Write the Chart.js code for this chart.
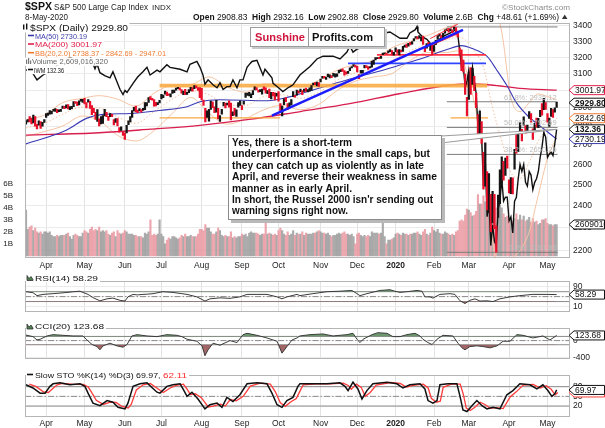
<!DOCTYPE html>
<html>
<head>
<meta charset="utf-8">
<title>$SPX S&amp;P 500 Large Cap Index</title>
<script src="https://cdn.jsdelivr.net/npm/chart.js@4.4.1/dist/chart.umd.min.js"></script>
<style>
  html, body { margin: 0; padding: 0; background: #fff; }
  #wrap { position: relative; width: 605px; height: 428px; overflow: hidden; background: #fff; }
  #wrap canvas { position: absolute; left: 0; }
</style>
</head>
<body>
<div id="wrap">
  <canvas id="main" width="605" height="275" style="top:0px"></canvas>
  <canvas id="rsi" width="605" height="47" style="top:273px"></canvas>
  <canvas id="cci" width="605" height="47" style="top:320px"></canvas>
  <canvas id="sto" width="605" height="61" style="top:367px"></canvas>
</div>
<script>
// trading-day index: 0 = 15-Mar-2019 ... 290 = 8-May-2020
const monthIdx = [11, 32, 54, 74, 96, 118, 138, 161, 181, 202, 223, 242, 264, 285];
const monthLbl = ['Apr', 'May', 'Jun', 'Jul', 'Aug', 'Sep', 'Oct', 'Nov', 'Dec', '2020', 'Feb', 'Mar', 'Apr', 'May'];
const priceTicks = [2200, 2300, 2400, 2500, 2600, 2700, 2800, 2900, 3000, 3100, 3200, 3300, 3400];
const volTicks = [1, 2, 3, 4, 5, 6];

const cl = [
  2822,2833,2832,2824,2854,2800,2798,2818,2805,2815,2834,
  2867,2867,2873,2879,2892,2895,2878,2888,2888,2907,2905,2907,2900,2905,2907,2933,2927,2926,2940,2943,2946,
  2924,2918,2946,2932,2884,2879,2870,2881,2812,2834,2851,2876,2860,2840,2864,2856,2822,2826,2802,2783,2789,2752,
  2744,2803,2826,2843,2873,2886,2885,2879,2891,2887,2889,2917,2926,2954,2950,2945,2917,2913,2924,2942,
  2964,2973,2996,2990,2976,2979,2993,3000,3014,3014,3004,2985,2995,2976,2986,3005,3019,3004,3026,3021,3013,2980,
  2954,2932,2845,2881,2884,2938,2918,2883,2926,2840,2848,2889,2924,2900,2925,2922,2847,2878,2869,2888,2924,2926,
  2906,2938,2976,2979,2979,2980,3000,3010,3007,2998,3006,3007,3006,2992,2992,2966,2984,2977,2962,2977,
  2941,2888,2910,2952,2938,2893,2919,2938,2970,2966,2996,2990,2998,2986,3007,2996,3004,3010,3023,3039,3036,3047,3038,
  3067,3078,3075,3077,3085,3093,3087,3092,3094,3097,3120,3122,3120,3108,3104,3110,3134,3141,3153,3141,
  3114,3093,3113,3117,3146,3136,3133,3142,3169,3169,3192,3192,3191,3206,3221,3224,3223,3240,3240,3222,3231,
  3258,3235,3246,3237,3253,3275,3265,3288,3283,3289,3317,3330,3321,3321,3326,3295,3244,3276,3273,3284,3226,
  3249,3298,3335,3345,3328,3352,3358,3379,3374,3380,3370,3386,3373,3338,3226,3128,3116,2979,2954,
  3090,3003,3130,3024,2972,2747,2882,2741,2481,2711,2386,2529,2398,2409,2305,2237,2447,2476,2630,2541,2627,2585,
  2470,2527,2489,2664,2659,2750,2790,2762,2846,2783,2800,2875,2823,2737,2799,2798,2837,2878,2863,2940,2912,
  2831,2843,2868,2849,2882,2929.8
];
const hi = [
  2830,2836,2852,2844,2860,2852,2809,2829,2825,2820,2836,
  2869,2872,2885,2881,2893,2896,2892,2889,2893,2910,2909,2917,2919,2908,2909,2936,2936,2933,2940,2949,2949,
  2955,2931,2947,2937,2913,2898,2875,2891,2840,2852,2858,2892,2875,2853,2868,2865,2836,2841,2841,2792,2796,2768,
  2763,2804,2828,2852,2885,2903,2911,2888,2896,2891,2898,2931,2930,2959,2965,2955,2947,2932,2930,2943,
  2977,2974,2996,2991,2981,2980,3002,3003,3014,3018,3016,3006,2996,3007,2990,3006,3019,3017,3028,3027,3017,3017,
  3013,2945,2898,2884,2892,2939,2935,2907,2943,2898,2857,2893,2932,2927,2928,2940,2928,2879,2898,2890,2930,2941,
  2914,2938,2985,2985,2989,2980,3000,3021,3017,3003,3006,3008,3022,3016,2999,3008,2989,2989,2987,2983,
  2993,2925,2911,2953,2959,2925,2929,2948,2993,2972,3003,2998,3008,3000,3008,3014,3005,3016,3028,3044,3047,3050,3047,
  3067,3084,3084,3078,3097,3093,3088,3102,3098,3098,3120,3124,3128,3118,3111,3113,3134,3142,3154,3150,
  3144,3094,3119,3120,3150,3148,3143,3143,3176,3182,3197,3198,3199,3206,3226,3227,3226,3240,3248,3241,3231,
  3258,3246,3247,3245,3268,3276,3283,3288,3294,3299,3317,3330,3330,3337,3327,3334,3258,3285,3293,3285,3282,
  3268,3306,3337,3348,3341,3352,3375,3381,3385,3381,3375,3393,3389,3360,3259,3246,3182,3097,2960,
  3091,3137,3131,3083,2985,2863,2883,2825,2661,2711,2563,2553,2453,2467,2453,2307,2449,2572,2638,2615,2631,2642,
  2523,2534,2533,2677,2756,2760,2819,2782,2851,2802,2806,2880,2868,2785,2815,2844,2842,2887,2925,2954,2930,
  2869,2844,2898,2891,2901,2932.2
];
const lo = [
  2810,2822,2823,2812,2817,2800,2785,2805,2787,2799,2820,
  2848,2859,2865,2867,2882,2880,2873,2879,2881,2898,2896,2900,2895,2891,2896,2908,2926,2913,2917,2939,2932,
  2923,2900,2933,2898,2862,2873,2836,2825,2801,2812,2815,2855,2852,2831,2851,2851,2806,2820,2801,2767,2776,2750,
  2728,2763,2808,2823,2848,2883,2878,2874,2884,2876,2886,2890,2911,2932,2947,2944,2910,2911,2919,2929,
  2952,2959,2978,2970,2971,2963,2983,2988,3002,3010,3003,2984,2976,2976,2977,2988,2998,2996,3011,3015,3000,2959,
  2946,2914,2823,2848,2826,2892,2901,2874,2877,2839,2825,2866,2912,2900,2917,2904,2834,2857,2860,2853,2905,2914,
  2891,2921,2960,2972,2969,2958,2976,3003,3003,2990,2993,2978,3004,2985,2982,2958,2952,2969,2946,2967,
  2938,2874,2856,2918,2935,2892,2907,2917,2964,2962,2973,2985,2991,2976,2995,2995,2991,2996,3001,3033,3034,3026,3024,
  3050,3073,3072,3065,3081,3074,3075,3085,3078,3083,3104,3111,3113,3091,3096,3101,3118,3134,3143,3139,
  3110,3070,3102,3103,3134,3135,3125,3134,3139,3156,3183,3191,3191,3192,3216,3222,3220,3227,3235,3215,3213,
  3235,3223,3215,3233,3236,3263,3262,3269,3277,3282,3302,3320,3316,3320,3302,3281,3234,3256,3271,3242,3215,
  3236,3281,3313,3334,3322,3317,3353,3369,3360,3367,3356,3378,3341,3328,3215,3118,3108,2977,2855,
  2948,2977,3035,2999,2901,2734,2734,2707,2478,2492,2380,2367,2281,2320,2295,2192,2345,2408,2505,2521,2545,2581,
  2460,2456,2455,2575,2657,2664,2762,2721,2805,2761,2764,2842,2821,2728,2775,2794,2791,2852,2860,2891,2892,
  2821,2798,2853,2847,2877,2902.9
];
// volume, billions
const vol = [
  3.8,2.2,2.4,2.5,2.1,2.3,2.0,1.9,2.0,1.8,2.0,
  2.0,1.9,2.0,1.7,1.6,1.6,1.7,1.6,1.7,1.7,1.7,1.8,1.9,1.6,1.4,1.7,1.8,1.7,1.6,1.6,1.9,
  2.1,2.0,1.9,2.2,2.4,2.1,2.2,2.1,2.4,2.0,2.1,2.0,2.1,1.8,1.7,1.9,2.0,1.6,2.1,1.9,1.8,1.9,
  2.1,2.0,1.8,1.8,1.8,1.7,1.7,1.6,1.6,1.6,1.5,1.9,1.8,2.0,3.0,1.7,1.8,1.7,1.8,3.0,
  1.8,1.6,1.0,1.3,1.5,1.4,1.6,1.6,1.5,1.4,1.5,1.7,1.6,1.8,1.6,1.6,1.7,1.6,1.6,1.6,1.8,2.2,
  2.2,2.1,2.6,2.3,2.3,2.0,1.8,1.8,2.0,2.3,2.1,1.7,1.6,1.7,1.6,1.6,2.0,1.5,1.6,1.5,1.6,1.6,
  1.8,1.7,1.8,1.6,1.9,2.0,1.9,1.9,1.9,1.8,1.7,1.8,1.8,3.2,1.8,1.9,1.8,1.7,1.8,1.7,
  2.1,2.3,2.1,1.8,1.7,2.0,1.7,1.8,2.1,1.7,1.9,1.8,1.8,2.0,1.7,1.9,1.8,1.8,1.8,1.9,1.9,2.0,2.1,
  2.0,1.9,1.9,1.8,1.9,1.7,1.6,1.7,1.7,1.8,1.9,1.8,1.9,2.0,1.8,1.8,1.7,1.8,1.6,1.0,
  1.8,1.9,1.7,1.6,1.7,1.6,1.7,1.6,2.0,1.9,1.9,1.9,1.8,1.9,3.1,1.6,1.0,1.3,1.3,1.4,1.5,
  1.8,1.9,1.8,1.7,1.9,1.8,1.8,1.7,1.8,1.8,1.9,1.9,2.0,1.8,1.7,2.0,2.2,1.8,1.7,1.9,2.4,
  2.1,2.0,2.2,1.9,1.8,1.8,2.0,1.9,1.8,1.7,1.8,1.7,2.0,2.1,2.9,3.0,2.9,3.4,3.9,
  3.8,3.6,3.3,3.4,3.7,5.1,4.3,4.3,5.0,4.5,4.6,4.6,4.4,4.5,5.0,4.0,4.0,4.2,4.0,3.5,3.2,3.3,
  3.0,3.0,2.9,3.1,3.5,3.0,3.4,3.0,3.3,2.9,3.0,3.2,2.8,3.1,2.8,2.9,2.6,2.7,3.0,3.0,3.1,
  2.7,2.6,2.6,2.5,2.6,2.609
];

// [day index, value]
const ma50 = [[0,2705],[22,2777],[33,2842],[42,2864],[57,2869],[73,2886],[88,2907],[95,2935],[106,2947],[132,2941],
  [144,2963],[155,2997],[168,3038],[181,3079],[193,3114],[204,3150],[215,3187],[230,3248],[238,3273],[244,3254],
  [252,3205],[257,3126],[263,3026],[268,2930],[274,2858],[282.5,2788],[290,2730.19]];
const ma200 = [[0,2751],[40,2764],[68,2783],[95,2804],[122,2836],[150,2880],[177,2924],[204,2981],[232,3032],
  [243,3038],[254,3032],[270,3012],[290,3001.97]];
const bbX = [0,10,20,31,40,50,60,70,80,90,100,110,120,130,140,150,160,170,180,190,200,210,220,230,
  236,240,245,250,255,260,265,270,275,280,285,290];
const bbUp = [2835,2860,2930,2955,2970,2950,2910,2985,3030,3035,3080,3020,2990,3040,3035,3020,3060,3120,3155,3180,3260,3300,3340,3390,
  3420,3480,3550,3640,3560,3360,2960,2880,2930,2980,2965,2947.01];
const bbMid = [2790,2815,2865,2905,2900,2850,2815,2880,2950,2998,2975,2915,2915,2965,2975,2955,2990,3060,3105,3130,3180,3240,3285,3310,
  3330,3310,3240,3140,2900,2720,2560,2530,2610,2720,2790,2842.69];
const bbLo = [2745,2770,2800,2855,2830,2750,2720,2775,2870,2960,2870,2810,2840,2890,2915,2890,2920,3000,3055,3080,3100,3180,3230,3230,
  3240,3140,2930,2640,2240,2080,2160,2200,2280,2450,2630,2738.37];
const iwm = [[0,152],[3.3,151.2],[6,148.5],[9.3,150.2],[12,151.2],[16,153],[21,155.5],[26,157],[31,158.5],[35,157],
  [37.7,152.4],[38.8,154.2],[40.4,151],[43,150],[45.9,149.2],[47.5,151.3],[51.4,145.2],[53,143.5],[54.1,144.9],[55.2,144.2],
  [58.5,147.3],[61,149.5],[63.9,151.3],[66.1,152.9],[67.8,150.2],[71.6,151.9],[73.2,151.3],[77,153.8],[78.7,152.9],[84.2,152.2],
  [88,151.3],[89.6,154],[93.4,155],[95.1,152.9],[96.7,150.2],[97.8,147],[99.5,148.5],[102.2,146.8],[104.4,145.8],[106,147.5],
  [107.7,145.2],[109.8,146.2],[111.5,146.2],[113.1,148.5],[115.3,145.8],[116.9,148.5],[118.6,148.5],[120.8,152.9],[122.4,154.2],
  [123.5,155],[126.2,155.4],[129.5,150.2],[130.6,152.2],[134.4,149.2],[135,147.3],[137.7,146],[140.4,144.5],[143.2,145.8],
  [144.3,146.2],[145.9,146.8],[149.7,150.2],[155.2,153.2],[159,155.9],[162.3,156.9],[167.8,156.9],[171.6,155.9],[175.4,158.4],
  [177,160.7],[178.7,158.4],[180.9,159.5],[184.2,160.3],[188,161.5],[192,163],[196.2,165.6],[198.9,166],[204.4,163.6],
  [208.2,163.6],[209.8,165.6],[212.6,166.8],[213.7,168.1],[214.2,166],[216.9,164],[219.1,163.2],[222.4,160.5],[224.6,162],
  [227,164],[230,165],[233,166],[235,167],[236,165],[237,159],[238,153],[239,153],[240,146],[241,148],[242,152],[243,148],
  [244,153],[245,148],[246,144],[247,133],[248,137],[249,130],[250,116],[251,123],[252,108],[253,112],[254,101],[255,106],
  [256,102],[257,101],[258,110],[259,112],[260,118],[261,112],[262,113],[263,113],[264,107],[265,108],[266,104],[267,112],
  [268,113],[269,118],[270,122],[271,120],[272,122],[273,117],[274,116],[275,120],[276,119],[277,115],[278,117],[279,118],
  [280,120],[281,124],[282,127],[283,131.5],[284,130],[285,124],[286,125],[287,125.5],[288,124.5],[289,128],[290,132.36]];

// analyst drawings: [fromDay, toDay, price]
const orangeThick = [[73, 252, 3028]];
const orangeThin = [[73, 138.8, 2845], [232, 252.5, 2845]];
const blueLevel = [[176, 251.4, 3162]];
const redLevel = [[191.8, 251.4, 3214]];
const blueTrend = [[134.4, 2857], [238.8, 3374]];
const redChannel = [[[221, 3318], [236, 3412]], [[223, 3282], [236.5, 3352]]];
const fibSpan = [230, 290.5];
const fibLevels = [3393.52, 2935.12, 2792.69, 2650.26, 2191.86];
const fibLbl = ['', '61.8%: 2935.12', '50.0%: 2792.69', '38.2%: 2650.26', '0.0%: 2191.86'];

const rsi = [[0,70],[3.8,66],[6,54],[9.3,59],[14.8,62],[18,64],[22.4,67],[26,70],[29.5,72],[31.1,67],[33.9,59],[36.6,46],
  [40.4,33],[44.3,41],[47.5,44],[51.4,35],[54.1,32],[55.7,49],[58.5,59],[60.9,57],[63.9,59],[66.5,60],[69.4,62],[74.9,70],
  [80.3,67],[85.2,62],[88,59],[93.4,49],[97.8,32],[100.5,41],[106,45],[111.5,43],[116.9,49],[120.8,59],[126.2,59],[131.7,59],
  [137.2,49],[139.9,41],[142.6,49],[148.1,59],[149.7,54],[156.8,62],[164.5,70],[171.6,72],[178.1,75],[180.9,62],[182.5,54],
  [186.3,62],[193.4,75],[198.9,78],[201.6,72],[204.4,67],[208.2,70],[213.7,75],[216.4,72],[218,49],[220.8,49],[222.4,44],
  [226.2,59],[231.7,62],[234.4,59],[237.2,33],[239.9,22],[242.6,35],[245.4,41],[248.1,32],[251.9,33],[255.2,30],[259,41],
  [264.5,49],[269.9,54],[277,59],[284.7,59],[290,58.29]];
const cci = [[0,132],[3.8,95],[6,16],[7.7,32],[11.5,111],[14.8,143],[20.2,127],[25.7,111],[31.1,111],[33.3,16],[36.1,-95],
  [38.8,-143],[40.4,-222],[42.1,-127],[45.9,-63],[49.7,-127],[53,-159],[55.2,-95],[57.9,111],[60.7,143],[66.1,111],[71.6,95],
  [77,143],[82.5,127],[85.2,95],[88,32],[93.4,-16],[96.2,-127],[97.8,-365],[99.5,-222],[102.2,-63],[106,-111],[111.5,0],
  [115.3,-48],[118.6,143],[120.8,175],[126.2,127],[131.7,63],[137.2,-16],[139.9,-302],[142.6,-143],[145.4,16],[148.1,63],
  [149.7,111],[155.2,143],[162.3,159],[167.8,111],[175.4,143],[178.7,175],[180.9,32],[182.5,-48],[184.2,32],[189.1,143],
  [192.3,190],[197.3,175],[200.5,95],[204.4,95],[208.2,143],[212.6,175],[215.3,111],[216.9,32],[219.7,-48],[221.9,-95],
  [224.6,32],[227.9,127],[233.3,111],[236.1,-63],[238.3,-175],[239.9,-222],[242.6,-143],[246.4,-127],[249.7,-143],
  [253.6,-175],[257.4,-127],[260.7,-16],[264.5,-16],[268.3,143],[271.6,127],[277,63],[282.5,111],[286.3,16],[288,63],[290,123.68]];
const stoK = [[0,86],[3.8,76],[7.7,60],[10.4,60],[13.1,81],[14.8,89],[18.6,92],[24,86],[29.5,89],[32.2,81],[33.9,60],[36.6,29],
  [40.4,21],[44.3,37],[47.5,32],[50.3,16],[54.1,11],[55.7,29],[58.5,81],[62.3,89],[66.1,92],[71.6,63],[73.2,60],[77,81],
  [80.3,86],[84.2,89],[85.8,73],[88,50],[90.7,63],[94,42],[97.8,11],[100.5,24],[104.4,29],[107.1,16],[109.8,47],[113.1,34],
  [116.9,55],[120.8,89],[126.2,92],[131.7,89],[134.4,60],[137.2,24],[139.9,16],[142.6,37],[145.9,47],[148.6,81],[149.7,89],
  [156.8,89],[164.5,89],[171.6,92],[174.3,81],[176,68],[178.7,94],[181.4,73],[183.6,42],[186.3,68],[189.6,89],[197.3,94],
  [202.7,89],[206,76],[209.8,86],[215.3,89],[218,73],[219.7,37],[222.4,29],[224.6,37],[226.2,86],[230.6,89],[235.5,89],
  [237.2,50],[238.8,8],[241,3],[243.7,21],[246.4,37],[249.2,21],[251.9,11],[255.2,16],[259,11],[262.8,55],[266.1,68],
  [269.9,89],[275.4,86],[279.2,73],[282.5,86],[285.2,68],[287.4,50],[289,58],[290,69.97]];
const stoD = [[1.8,88],[5.6,80],[9.5,64],[12.2,62],[15,76],[17,86],[20,90],[26,87],[31.3,87],[34,79],[35.7,64],[38.4,38],
  [42.2,25],[46.1,32],[49.3,31],[52.1,20],[55.9,14],[57.5,25],[60.3,70],[64,86],[67.9,90],[73.4,68],[75,62],[78.8,76],
  [82.1,84],[86,88],[87.6,76],[89.8,56],[92.5,58],[95.8,46],[99.6,17],[102.3,20],[106.2,26],[108.9,20],[111.6,40],[114.9,36],
  [118.7,50],[122.6,82],[128,91],[133.5,88],[136.2,65],[139,30],[141.7,19],[144.4,32],[147.7,43],[150.4,74],[151.5,86],
  [158.6,89],[166.3,89],[173.4,91],[176.1,84],[177.8,72],[180.5,88],[183.2,78],[185.4,50],[188.1,62],[191.4,85],[199.1,93],
  [204.5,90],[207.8,79],[211.6,84],[217.1,88],[219.8,76],[221.5,44],[224.2,32],[226.4,35],[228,78],[232.4,88],[237.3,88],
  [239,56],[240.6,14],[242.8,6],[245.5,17],[248.2,32],[251,24],[253.7,13],[257,15],[260.8,12],[264.6,48],[267.9,64],
  [271.7,85],[277.2,87],[281,76],[284.3,83],[287,72],[289.2,55],[290.7,62.11]];
const rsiLevels = [70, 50, 30];
const cciLevels = [100, 0, -100];
const stoLevels = [80, 50, 20];

// ---------------------------------------------------------------
const FF = '"Liberation Sans", Arial, Helvetica, sans-serif';
Chart.defaults.font.family = FF;
const X_MIN = -0.55, X_MAX = 297.3;

const isUp = i => i === 0 || cl[i] >= cl[i - 1];
const pts = arr => arr.map(p => ({ x: p[0], y: p[1] }));
const seg = (a, b) => [{ x: a[0], y: a[1] }, { x: b[0], y: b[1] }];
const level = (v) => seg([X_MIN, v], [X_MAX, v]);

function lineDs(data, color, width, extra) {
  return Object.assign({
    type: 'line', data, borderColor: color, borderWidth: width,
    pointRadius: 0, fill: false, tension: 0
  }, extra || {});
}

function xAxis(showLabels, height) {
  return {
    type: 'linear', min: X_MIN, max: X_MAX, offset: false,
    grid: { color: '#e3e3e3', drawTicks: false, offset: false },
    border: { display: false },
    ticks: {
      display: showLabels, autoSkip: false, maxRotation: 0, padding: 2, color: '#222',
      font: c => ({ size: 8.5, weight: c.index === 9 ? 'bold' : 'normal' }),
      callback: (v, i) => monthLbl[i]
    },
    afterBuildTicks: s => { s.ticks = monthIdx.map(v => ({ value: v })); },
    afterFit: s => { s.height = height; }
  };
}

function rightAxis(min, max, ticks, type) {
  return {
    type: type || 'linear', position: 'right', min, max,
    grid: { color: '#ebebeb', drawTicks: false },
    border: { display: false },
    ticks: { padding: 3, color: '#222', font: { size: 8.5 }, callback: v => String(v) },
    afterBuildTicks: s => { s.ticks = ticks.map(v => ({ value: v })); },
    afterFit: s => { s.width = 35; }
  };
}

// text stretched to a given width
function fit(ctx, text, x, y, font, w, color, align) {
  ctx.save();
  ctx.font = font;
  ctx.fillStyle = color || '#111';
  ctx.textBaseline = 'alphabetic';
  const nat = ctx.measureText(text).width;
  const k = w ? w / nat : 1;
  const x0 = align === 'right' ? x - nat * k : x;
  ctx.translate(x0, y);
  ctx.scale(k, 1);
  ctx.fillText(text, 0, 0);
  ctx.restore();
  return x0 + nat * k;
}

function tag(ctx, y, text, col, bold) {
  ctx.save();
  ctx.beginPath();
  ctx.moveTo(569, y);
  ctx.lineTo(574, y - 4.5);
  ctx.lineTo(604.5, y - 4.5);
  ctx.lineTo(604.5, y + 4.5);
  ctx.lineTo(574, y + 4.5);
  ctx.closePath();
  ctx.fillStyle = '#fff';
  ctx.fill();
  ctx.strokeStyle = col;
  ctx.lineWidth = 1;
  ctx.stroke();
  ctx.clip();
  ctx.fillStyle = '#111';
  ctx.font = (bold ? 'bold ' : '') + '8.5px ' + FF;
  ctx.textBaseline = 'middle';
  ctx.fillText(text, 575, y + 0.5);
  ctx.restore();
}

function frame(chart) {
  const a = chart.chartArea, ctx = chart.ctx;
  ctx.save();
  ctx.strokeStyle = '#b5b5b5';
  ctx.lineWidth = 1;
  ctx.strokeRect(Math.round(a.left) + 0.5, Math.round(a.top) + 0.5,
    Math.round(a.right - a.left) - 1, Math.round(a.bottom - a.top) - 1);
  ctx.restore();
}

function legendRow(ctx, left, text, x, y, w, color, size, bold) {
  ctx.fillStyle = '#fff';
  ctx.fillRect(left, y - size * 0.82, x - left + w + 1.5, size * 1.02);
  fit(ctx, text, x, y, (bold ? 'bold ' : '') + size + 'px ' + FF, w, color);
}

function dash(ctx, x1, x2, y, color) {
  ctx.save();
  ctx.strokeStyle = color;
  ctx.lineWidth = 1.6;
  ctx.beginPath();
  ctx.moveTo(x1, y);
  ctx.lineTo(x2, y);
  ctx.stroke();
  ctx.restore();
}

function miniIcon(ctx, x, y) {
  ctx.save();
  ctx.fillStyle = '#fff';
  ctx.fillRect(x - 1, y - 6, 8, 7);
  ctx.strokeStyle = '#333';
  ctx.fillStyle = '#4f7f4f';
  ctx.beginPath();
  ctx.moveTo(x, y);
  ctx.lineTo(x, y - 5);
  ctx.lineTo(x + 2, y - 2);
  ctx.lineTo(x + 4, y - 4);
  ctx.lineTo(x + 6, y - 1);
  ctx.lineTo(x + 6, y);
  ctx.closePath();
  ctx.fill();
  ctx.lineWidth = 0.8;
  ctx.stroke();
  ctx.restore();
}

const mainDecor = {
  id: 'mainDecor',
  afterDraw(chart) {
    const ctx = chart.ctx;
    const ys = chart.scales.y, yv = chart.scales.yVol, yi = chart.scales.yIwm, xs = chart.scales.x;
    frame(chart);

    // fibonacci labels
    fibLevels.forEach((v, k) => {
      if (!fibLbl[k]) return;
      fit(ctx, fibLbl[k], xs.getPixelForValue(fibSpan[1]) - 1, ys.getPixelForValue(v) - 2,
        '7.5px ' + FF, 0, '#bdbdbd', 'right');
    });

    // header
    fit(ctx, '$SPX', 25, 10, 'bold 11px ' + FF, 27, '#111');
    fit(ctx, 'S&P 500 Large Cap Index', 54, 10, '9px ' + FF, 94, '#222');
    fit(ctx, 'INDX', 152, 10, '7px ' + FF, 19, '#222');
    fit(ctx, '8-May-2020', 25, 19.5, '8.5px ' + FF, 43, '#222');
    fit(ctx, '\u00a9StockCharts.com', 570, 10, '8px ' + FF, 68, '#8c8c8c', 'right');
    const parts = [['Open ', 1], ['2908.83  ', 0], ['High ', 1], ['2932.16  ', 0], ['Low ', 1], ['2902.88  ', 0],
      ['Close ', 1], ['2929.80  ', 0], ['Volume ', 1], ['2.6B  ', 0], ['Chg ', 1], ['+48.61 (+1.69%) ', 0]];
    ctx.save();
    let tot = 0;
    parts.forEach(p => { ctx.font = (p[1] ? 'bold ' : '') + '9px ' + FF; tot += ctx.measureText(p[0]).width; });
    const sc = 369 / tot;
    let cx = 193;
    parts.forEach(p => {
      ctx.font = (p[1] ? 'bold ' : '') + (9 * sc).toFixed(2) + 'px ' + FF;
      ctx.fillStyle = '#111';
      ctx.fillText(p[0], cx, 19.5);
      cx += ctx.measureText(p[0]).width;
    });
    ctx.beginPath();
    ctx.moveTo(cx + 0.5, 19);
    ctx.lineTo(cx + 6, 19);
    ctx.lineTo(cx + 3.25, 14.5);
    ctx.closePath();
    ctx.fillStyle = '#333';
    ctx.fill();
    ctx.restore();

    // legend
    ctx.save();
    legendRow(ctx, 21, '$SPX (Daily) 2929.80', 30, 30.5, 98, '#111', 9.5);
    ctx.fillStyle = '#111';
    ctx.fillRect(23, 24.5, 1.4, 5);
    ctx.fillRect(26, 23.5, 1.4, 6);
    legendRow(ctx, 27, 'MA(50) 2730.19', 35, 38.5, 52, '#3a3aaa', 8);
    dash(ctx, 28, 34, 35.5, '#3a3aaa');
    legendRow(ctx, 27, 'MA(200) 3001.97', 35, 47, 67, '#e0204a', 8);
    dash(ctx, 28, 34, 44, '#e0204a');
    legendRow(ctx, 27, 'BB(20,2.0) 2738.37 - 2842.69 - 2947.01', 35, 55.7, 131, '#f07a30', 8);
    dash(ctx, 28, 34, 52.7, '#f07a30');
    legendRow(ctx, 25, 'Volume 2,609,016,320', 32, 64.2, 76, '#666', 8);
    ctx.fillStyle = '#777';
    ctx.fillRect(26, 59.5, 1.2, 4.5);
    ctx.fillRect(28, 58, 1.2, 6);
    ctx.fillRect(30, 60.5, 1.2, 3.5);
    legendRow(ctx, 27, 'IWM 132.36', 34, 72.6, 30, '#111', 8);
    dash(ctx, 28, 33, 69.5, '#111');
    ctx.restore();

    // Sunshine Profits logo
    ctx.save();
    ctx.fillStyle = '#c9c9c9';
    ctx.fillRect(252, 29, 135, 20);
    ctx.fillStyle = '#fff';
    ctx.fillRect(250, 27, 135, 20);
    ctx.strokeStyle = '#9a9a9a';
    ctx.strokeRect(250.5, 27.5, 134, 19);
    ctx.beginPath();
    ctx.moveTo(308.5, 27.5);
    ctx.lineTo(308.5, 46.5);
    ctx.stroke();
    ctx.restore();
    fit(ctx, 'Sunshine', 255, 41, 'bold 11px ' + FF, 50, '#d0143c');
    fit(ctx, 'Profits.com', 312, 41, 'bold 11px ' + FF, 61, '#111');

    // comment call-out
    const tipX = xs.getPixelForValue(290), tipY = yi.getPixelForValue(132.36);
    ctx.save();
    ctx.beginPath();
    ctx.moveTo(441, 136);
    ctx.lineTo(tipX, tipY);
    ctx.lineTo(441, 143);
    ctx.closePath();
    ctx.fillStyle = '#fff';
    ctx.fill();
    ctx.strokeStyle = '#9a9a9a';
    ctx.lineWidth = 1;
    ctx.stroke();
    ctx.fillStyle = '#b9b9b9';
    ctx.fillRect(231, 138, 214, 85);
    ctx.fillStyle = '#fff';
    ctx.fillRect(228, 135, 214, 85);
    ctx.strokeStyle = '#8a8a8a';
    ctx.strokeRect(228.5, 135.5, 213, 84);
    ctx.restore();
    const note = [
      ['Yes, there is a short-term', 120],
      ['underperformance in the small caps, but', 198],
      ['they can catch up as violently as in late', 192],
      ['April, and reverse their weakness in same', 205],
      ['manner as in early April.', 120],
      ["In short, the Russel 2000 isn'r sending out", 201],
      ['warning signs right now.', 116]
    ];
    note.forEach((n, k) => fit(ctx, n[0], 232, 146 + k * 11.4, 'bold 10.3px ' + FF, n[1], '#111'));

    // value tags on the right
    tag(ctx, ys.getPixelForValue(3001.97), '3001.97', '#e0204a', false);
    tag(ctx, ys.getPixelForValue(2929.80), '2929.80', '#111', true);
    tag(ctx, ys.getPixelForValue(2842.69), '2842.69', '#f07a30', false);
    tag(ctx, yi.getPixelForValue(132.36), '132.36', '#111', true);
    tag(ctx, ys.getPixelForValue(2730.19), '2730.19', '#3a3aaa', false);
    tag(ctx, yv.getPixelForValue(vol[vol.length - 1]), '2609016320', '#111', false);
  }
};

function oscDecor(id, draw) {
  return { id, afterDraw(chart) { frame(chart); draw(chart.ctx, chart.scales.y); } };
}

// ---------------- main price panel ----------------
const hLine = (arr, color, w, extra) => arr.map(s => lineDs(seg([s[0], s[2]], [s[1], s[2]]), color, w, extra));

new Chart(document.getElementById('main'), {
  type: 'line',
  data: {
    datasets: [
      {
        type: 'bar', yAxisID: 'yVol', grouped: false, order: 30, barThickness: 1.5,
        data: vol.map((v, i) => ({ x: i, y: v })),
        backgroundColor: vol.map((v, i) => isUp(i) ? 'rgba(150,150,150,0.8)' : 'rgba(234,150,160,0.85)')
      },
      lineDs(bbX.map((x, k) => ({ x, y: bbUp[k] })), '#f5c4a4', 1, { order: 20, cubicInterpolationMode: 'monotone' }),
      lineDs(bbX.map((x, k) => ({ x, y: bbLo[k] })), '#f5c4a4', 1, { order: 20, cubicInterpolationMode: 'monotone' }),
      lineDs(bbX.map((x, k) => ({ x, y: bbMid[k] })), '#f3c0a0', 1, { order: 20, borderDash: [1.5, 2], cubicInterpolationMode: 'monotone' }),
      lineDs(pts(ma200), '#d81e4e', 1.3, { order: 15, cubicInterpolationMode: 'monotone' }),
      lineDs(pts(ma50), '#3a3ab5', 1.1, { order: 14, cubicInterpolationMode: 'monotone' }),
      ...hLine(orangeThick, 'rgba(250,172,70,0.9)', 3.8, { order: 12 }),
      ...hLine(orangeThin, '#f9a845', 1.4, { order: 12 }),
      ...hLine(blueLevel, '#2d46ff', 1.8, { order: 12 }),
      ...hLine(redLevel, '#ff3344', 1.8, { order: 12 }),
      ...fibLevels.map(v => lineDs(seg([fibSpan[0], v], [fibSpan[1], v]), '#7c7c7c', 1, { order: 11 })),
      lineDs(pts(iwm), '#111', 1.4, { yAxisID: 'yIwm', order: 4 }),
      {
        type: 'bar', yAxisID: 'y', grouped: false, order: 3, barThickness: 1.6,
        data: cl.map((c, i) => ({ x: i, y: [lo[i], hi[i]] })),
        backgroundColor: cl.map((c, i) => isUp(i) ? '#151515' : '#e8102a')
      },
      lineDs(seg(blueTrend[0], blueTrend[1]), '#1c1cff', 2.4, { order: 1 }),
      ...redChannel.map(s => lineDs(seg(s[0], s[1]), '#ff2a3a', 1, { order: 1 }))
    ]
  },
  options: {
    responsive: false, animation: false, events: [],
    layout: { padding: { top: 23, left: 0, right: 0, bottom: 0 } },
    plugins: { legend: { display: false }, tooltip: { enabled: false } },
    scales: {
      x: xAxis(true, 13),
      y: rightAxis(2167, 3419.5, priceTicks, 'logarithmic'),
      yVol: {
        type: 'linear', position: 'left', min: -0.2, max: 19.4,
        grid: { display: false, drawTicks: false }, border: { display: false },
        ticks: { padding: 12, color: '#222', font: { size: 8 }, callback: v => v + 'B' },
        afterBuildTicks: s => { s.ticks = volTicks.map(v => ({ value: v })); },
        afterFit: s => { s.width = 25; }
      },
      yIwm: { type: 'logarithmic', display: false, min: 98.08, max: 169.5 }
    }
  },
  plugins: [mainDecor]
});

// ---------------- oscillator panels ----------------
function oscOptions(min, max, ticks, showX, h) {
  return {
    responsive: false, animation: false, events: [],
    layout: { padding: { left: 25, top: 0, right: 0, bottom: 0 } },
    plugins: { legend: { display: false }, tooltip: { enabled: false } },
    scales: { x: xAxis(showX, h), y: rightAxis(min, max, ticks) }
  };
}
const refLines = (lv) => [
  lineDs(level(lv[0]), '#8a8a8a', 1, { order: 6 }),
  lineDs(level(lv[1]), '#8a8a8a', 1, { order: 6, borderDash: [6, 2, 1.5, 2] }),
  lineDs(level(lv[2]), '#8a8a8a', 1, { order: 6 })
];
const NONE = 'rgba(0,0,0,0)';
const GREEN = 'rgba(84,134,84,0.85)';
const BROWN = 'rgba(146,74,74,0.85)';

new Chart(document.getElementById('rsi'), {
  type: 'line',
  data: {
    datasets: [
      lineDs(pts(rsi), '#3a3a3a', 1, { order: 1, fill: { target: { value: rsiLevels[0] }, above: GREEN, below: NONE } }),
      lineDs(pts(rsi), NONE, 0, { order: 2, fill: { target: { value: rsiLevels[2] }, above: NONE, below: BROWN } }),
      ...refLines(rsiLevels)
    ]
  },
  options: oscOptions(-12, 113, [10, 30, 50, 70, 90], false, 0),
  plugins: [oscDecor('rsiDecor', (ctx, y) => {
    ctx.fillStyle = '#fff';
    ctx.fillRect(26, 1, 74, 8);
    miniIcon(ctx, 27, 7.5);
    fit(ctx, 'RSI(14) 58.29', 35, 7.6, '8px ' + FF, 63, '#111');
    tag(ctx, y.getPixelForValue(58.29), '58.29', '#111', false);
  })]
});

new Chart(document.getElementById('cci'), {
  type: 'line',
  data: {
    datasets: [
      lineDs(pts(cci), '#3a3a3a', 1, { order: 1, fill: { target: { value: cciLevels[0] }, above: GREEN, below: NONE } }),
      lineDs(pts(cci), NONE, 0, { order: 2, fill: { target: { value: cciLevels[2] }, above: NONE, below: BROWN } }),
      ...refLines(cciLevels)
    ]
  },
  options: oscOptions(-440, 300, [-400, -200, 0, 200], false, 0),
  plugins: [oscDecor('cciDecor', (ctx, y) => {
    ctx.fillStyle = '#fff';
    ctx.fillRect(26, 2.5, 80, 8);
    miniIcon(ctx, 27, 9);
    fit(ctx, 'CCI(20) 123.68', 35, 9.3, '8px ' + FF, 69, '#111');
    tag(ctx, y.getPixelForValue(123.68), '123.68', '#111', false);
  })]
});

new Chart(document.getElementById('sto'), {
  type: 'line',
  data: {
    datasets: [
      lineDs(pts(stoD), '#ff3b3b', 1.3, { order: 2 }),
      lineDs(pts(stoK), '#111', 1.5, { order: 1 }),
      ...refLines(stoLevels)
    ]
  },
  options: oscOptions(-14, 116, [20, 50, 80], true, 11),
  plugins: [oscDecor('stoDecor', (ctx, y) => {
    ctx.fillStyle = '#fff';
    ctx.fillRect(26, 3.5, 163, 8);
    dash(ctx, 27, 33, 7.5, '#111');
    const x2 = fit(ctx, 'Slow STO %K(14) %D(3) 69.97, ', 35, 10.5, '8px ' + FF, 128, '#111');
    fit(ctx, '62.11', x2, 10.5, '8px ' + FF, 24, '#ff2a2a');
    tag(ctx, y.getPixelForValue(62.11), '62.11', '#ff3b3b', false);
    tag(ctx, y.getPixelForValue(69.97), '69.97', '#111', false);
  })]
});
</script>
</body>
</html>
